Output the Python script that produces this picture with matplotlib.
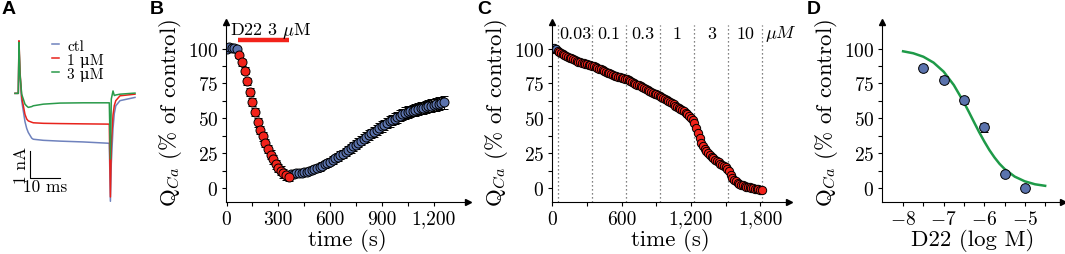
import matplotlib
matplotlib.use("Agg")
import matplotlib.pyplot as plt
from matplotlib.ticker import FuncFormatter, FixedLocator

plt.rcParams['font.family'] = ['cmr10', 'DejaVu Serif']
plt.rcParams['mathtext.fontset'] = 'cm'
plt.rcParams['axes.formatter.use_mathtext'] = True
plt.rcParams['axes.unicode_minus'] = False

# ---------------- DATA ----------------
# Panel A: current traces (time in ms, current in nA)
a_t = [0, 1.1, 1.33, 1.67, 2.23, 3.33, 3.9, 4.43, 5.57, 6.1, 9.43, 15, 22.7, 31.43,
       31.8, 32.1, 32.67, 33.1, 33.6, 35, 40]
a_ctl = [0, 0, 1.7, 0.7, -0.27, -1.05, -1.3, -1.45, -1.66, -1.70, -1.74, -1.77, -1.80, -1.85,
         -4.0, -2.6, -1.3, -0.75, -0.46, -0.27, -0.15]
a_1uM = [0, 0, 1.95, 0.8, -0.14, -0.78, -0.95, -1.02, -1.07, -1.09, -1.11, -1.12, -1.13, -1.14,
         -3.84, -1.9, -0.8, -0.45, -0.27, -0.09, -0.03]
a_3uM = [0, 0, 1.89, 0.71, -0.03, -0.40, -0.47, -0.52, -0.49, -0.46, -0.40, -0.36, -0.35, -0.35,
         -2.43, -0.21, 0.09, -0.08, -0.06, -0.03, 0.01]
a_labels = ['ctl', '1 μM', '3 μM']

# Panel B: time course, D22 3 uM
b_pre_t = [0, 15, 30, 45, 60]
b_pre_v = [100.0, 101.0, 100.7, 100.5, 99.8]
b_pre_e = [1.0, 1.0, 1.0, 1.2, 1.2]
b_drug_t = [75, 90, 105, 120, 135, 150, 165, 180, 195, 210, 225, 240, 255, 270, 285, 300,
            315, 330, 345, 360]
b_drug_v = [95.0, 90.0, 84.0, 76.5, 69.0, 61.5, 54.5, 47.0, 41.5, 37.0, 32.5, 28.0, 24.0,
            20.5, 17.0, 14.5, 12.5, 10.5, 9.0, 8.0]
b_drug_e = [2.0, 2.2, 2.4, 2.6, 2.8, 3.0, 3.0, 3.0, 3.0, 3.0, 3.0, 3.0, 3.0, 3.0, 3.0, 3.0,
            3.0, 3.0, 3.0, 3.0]
b_wash_t = [375, 390, 405, 420, 435, 450, 465, 480, 495, 510, 525, 540, 555, 570, 585, 600,
            615, 630, 645, 660, 675, 690, 705, 720, 735, 750, 765, 780, 795, 810, 825, 840,
            855, 870, 885, 900, 915, 930, 945, 960, 975, 990, 1005, 1020, 1035, 1050, 1065,
            1080, 1095, 1110, 1125, 1140, 1155, 1170, 1185, 1200, 1215, 1230, 1245, 1260]
b_wash_v = [10.0, 10.3, 10.5, 10.8, 11.0, 11.4, 11.8, 12.3, 12.9, 13.6, 14.2, 15.0, 15.9,
            16.9, 17.8, 18.9, 20.0, 21.2, 22.4, 23.6, 24.7, 25.9, 27.2, 28.5, 29.8, 31.2,
            32.6, 34.0, 35.3, 36.6, 37.9, 39.1, 40.4, 41.7, 43.0, 44.2, 45.4, 46.6, 47.7,
            48.8, 49.8, 50.8, 51.8, 52.8, 53.8, 54.5, 55.0, 55.5, 56.0, 56.6, 57.1, 57.6,
            58.1, 58.6, 59.1, 59.5, 60.0, 60.5, 61.0, 61.5]
b_wash_e = [2.0, 2.0, 2.0, 2.1, 2.1, 2.2, 2.2, 2.3, 2.3, 2.4, 2.4, 2.5, 2.5, 2.6, 2.6, 2.7,
            2.7, 2.8, 2.8, 2.9, 2.9, 3.0, 3.0, 3.1, 3.1, 3.2, 3.2, 3.3, 3.3, 3.4, 3.4, 3.5,
            3.5, 3.6, 3.6, 3.7, 3.7, 3.8, 3.8, 3.9, 3.9, 4.0, 4.0, 4.0, 4.1, 4.1, 4.1, 4.2,
            4.2, 4.2, 4.3, 4.3, 4.3, 4.4, 4.4, 4.4, 4.5, 4.5, 4.5, 4.6]
b_bar_t = [65, 360]
b_bar_label = r'D22 3 $\mu$M'

# Panel C: cumulative concentrations
c_pre_t = [0, 15, 30]
c_pre_v = [100.0, 100.5, 99.5]
c_t = [45, 60, 75, 90, 105, 120, 135, 150, 165, 180, 195, 210, 225, 240, 255, 270, 285, 300,
       315, 330, 345, 360, 375, 390, 405, 420, 435, 450, 465, 480, 495, 510, 525, 540, 555,
       570, 585, 600, 615, 630, 645, 660, 675, 690, 705, 720, 735, 750, 765, 780, 795, 810,
       825, 840, 855, 870, 885, 900, 915, 930, 945, 960, 975, 990, 1005, 1020, 1035, 1050,
       1065, 1080, 1095, 1110, 1125, 1140, 1155, 1170, 1185, 1200, 1215, 1230, 1245, 1260,
       1275, 1290, 1305, 1320, 1335, 1350, 1365, 1380, 1395, 1410, 1425, 1440, 1455, 1470,
       1485, 1500, 1515, 1530, 1545, 1560, 1575, 1590, 1605, 1620, 1635, 1650, 1665, 1680,
       1695, 1710, 1725, 1740, 1755, 1770, 1785, 1800, 1815]
c_v = [98.2, 97.5, 96.8, 96.0, 95.3, 94.6, 94.0, 93.4, 92.9, 92.4, 91.8, 91.1, 90.6, 90.2,
       89.8, 89.5, 89.1, 88.8, 88.4, 87.9, 87.5, 87.6, 86.9, 86.2, 85.6, 85.0, 84.3, 83.7,
       83.1, 82.6, 82.1, 81.6, 81.1, 80.6, 80.2, 79.8, 79.4, 79.1, 78.8, 78.5, 78.3, 77.4,
       76.6, 75.9, 75.3, 74.7, 74.1, 73.5, 72.9, 72.3, 71.7, 71.1, 70.5, 69.8, 69.1, 68.4,
       67.7, 67.1, 66.5, 65.9, 65.2, 64.4, 63.6, 62.8, 62.1, 61.4, 60.6, 59.9, 59.1, 58.4,
       57.6, 56.9, 56.0, 55.0, 54.0, 52.8, 51.7, 50.3, 48.6, 46.3, 42.8, 39.6, 35.8, 32.6,
       30.0, 27.9, 26.2, 24.8, 23.5, 22.2, 21.3, 20.4, 19.6, 18.6, 17.5, 16.5, 15.7, 14.8,
       14.0, 12.4, 9.4, 7.4, 5.9, 4.7, 3.8, 3.1, 2.5, 1.9, 1.5, 1.1, 0.8, 0.5, 0.2, 0.0,
       -0.4, -0.7, -0.9, -1.2, -1.4]
c_err = 1.8
c_lines = [50, 345, 640, 935, 1230, 1525, 1817]
c_conc = ['0.03', '0.1', '0.3', '1', '3', '10']
c_unit = r'$\mu M$'

# Panel D: dose-response
d_x = [-7.5, -7.0, -6.5, -6.0, -5.5, -5.0]
d_y = [86.0, 77.5, 63.0, 43.5, 10.2, 0.0]
d_e = [1.0, 2.5, 2.5, 3.0, 1.5, 0.5]
d_fit_x = [-8.0, -7.75, -7.5, -7.25, -7.0, -6.75, -6.5, -6.375, -6.25, -6.125, -6.0, -5.875,
           -5.75, -5.625, -5.5, -5.25, -5.0, -4.75, -4.5]
d_fit_y = [98.0, 96.6, 94.1, 89.9, 83.4, 73.8, 61.3, 54.3, 47.1, 40.0, 33.4, 27.3, 22.0,
           17.4, 13.7, 8.2, 4.8, 2.7, 1.6]

# ---------------- STYLE ----------------
BLUE = '#5b73ad'
RED = '#f2221a'
GREEN = '#1e9a48'
TR_BLUE = '#6f82bd'
TR_RED = '#e8231c'
TR_GREEN = '#2a9a4a'

W, H = 1065, 255
fig = plt.figure(figsize=(W / 100, H / 100), dpi=100)


def px_axes(x0, x1, ytop, ybot):
    return fig.add_axes([x0 / W, 1 - ybot / H, (x1 - x0) / W, (ybot - ytop) / H])


def style_axes(ax, xlim):
    ax.set_xlim(*xlim)
    ax.set_ylim(-10, 119)
    for s in ('top', 'right'):
        ax.spines[s].set_visible(False)
    for s in ('left', 'bottom'):
        ax.spines[s].set_linewidth(0.8)
    ax.plot(0, 1, '^', color='k', ms=4.5, transform=ax.transAxes, clip_on=False)
    ax.plot(1, 0, '>', color='k', ms=4.5, transform=ax.transAxes, clip_on=False)
    ax.yaxis.set_major_locator(FixedLocator([0, 25, 50, 75, 100]))
    ax.yaxis.set_minor_locator(FixedLocator([12.5, 37.5, 62.5, 87.5]))
    ax.tick_params(which='both', direction='out', length=3, width=0.8, labelsize=14,
                   pad=2.5)
    ax.set_ylabel(r'Q$_{Ca}$ (% of control)', fontsize=16.5, labelpad=3)


comma = FuncFormatter(lambda v, p: f'{int(round(v)):,}')

# ---------------- Panel A ----------------
axA = px_axes(0, 150, 35, 205)
axA.set_xlim(-5, 45)
axA.set_ylim(-4.1, 2.2)
axA.axis('off')
axA.plot(a_t, a_ctl, color=TR_BLUE, lw=1.1, label=a_labels[0])
axA.plot(a_t, a_1uM, color=TR_RED, lw=1.1, label=a_labels[1])
axA.plot(a_t, a_3uM, color=TR_GREEN, lw=1.1, label=a_labels[2])
axA.plot([5, 5, 15], [-2.13, -3.13, -3.13], color='k', lw=0.8)
axA.text(2.0, -2.62, '1 nA', rotation=90, ha='center', va='center', fontsize=12.5)
axA.text(10.0, -3.45, '10 ms', ha='center', va='center', fontsize=12.5)
axA.legend(loc='upper left', bbox_to_anchor=(0.345, 0.97), frameon=False, fontsize=11,
           handlelength=0.5, handletextpad=0.5, labelspacing=0.0, borderpad=0,
           borderaxespad=0)

# ---------------- Panel B ----------------
axB = px_axes(226, 468, 23, 203)
style_axes(axB, (-3, 1400))
eb = dict(fmt='o', mec='k', mew=0.7, ms=6.5, ecolor='k', elinewidth=0.7, capsize=2.6,
          capthick=0.7)
axB.errorbar(b_pre_t, b_pre_v, yerr=b_pre_e, mfc=BLUE, **eb)
axB.errorbar(b_wash_t, b_wash_v, yerr=b_wash_e, mfc=BLUE, **eb)
axB.errorbar(b_drug_t, b_drug_v, yerr=b_drug_e, mfc=RED, **eb)
axB.plot(b_bar_t, [106, 106], color=RED, lw=3.2, solid_capstyle='butt', clip_on=False)
axB.text(18, 113, b_bar_label, fontsize=13, ha='left', va='center')
axB.xaxis.set_major_locator(FixedLocator([0, 300, 600, 900, 1200]))
axB.xaxis.set_minor_locator(FixedLocator([150, 450, 750, 1050]))
axB.xaxis.set_major_formatter(comma)
axB.set_xlabel('time (s)', fontsize=16.5, labelpad=0)

# ---------------- Panel C ----------------
axC = px_axes(552, 789, 23, 203)
style_axes(axC, (-3, 2050))
axC.vlines(c_lines, -10, 117, linestyles=(0, (1, 2.2)), colors='0.35', lw=0.9)
eb2 = dict(fmt='o', mec='k', mew=0.7, ms=6.0, ecolor='k', elinewidth=0.6, capsize=1.8,
           capthick=0.6)
axC.errorbar(c_pre_t, c_pre_v, yerr=c_err, mfc=BLUE, **eb2)
axC.errorbar(c_t, c_v, yerr=c_err, mfc=RED, **eb2)
for i, lab in enumerate(c_conc):
    axC.text((c_lines[i] + c_lines[i + 1]) / 2, 110.8, lab, fontsize=13, ha='center',
             va='center')
axC.text(c_lines[-1] + 25, 110.8, c_unit, fontsize=13, ha='left', va='center')
axC.xaxis.set_major_locator(FixedLocator([0, 600, 1200, 1800]))
axC.xaxis.set_minor_locator(FixedLocator([300, 900, 1500]))
axC.xaxis.set_major_formatter(comma)
axC.set_xlabel('time (s)', fontsize=16.5, labelpad=0)

# ---------------- Panel D ----------------
axD = px_axes(882, 1063, 23, 203)
style_axes(axD, (-8.52, -4.06))
axD.plot(d_fit_x, d_fit_y, color=GREEN, lw=1.8)
axD.errorbar(d_x, d_y, yerr=d_e, fmt='o', mfc=BLUE, mec='k', mew=0.7, ms=7.0, ecolor='k',
             elinewidth=0.7, capsize=2.8, capthick=0.7)
axD.xaxis.set_major_locator(FixedLocator([-8, -7, -6, -5]))
axD.xaxis.set_minor_locator(FixedLocator([-7.5, -6.5, -5.5, -4.5]))
axD.xaxis.set_major_formatter(FuncFormatter(lambda v, p: r'$-%d$' % abs(int(round(v)))))
axD.set_xlabel('D22 (log M)', fontsize=16.5, labelpad=0)

# ---------------- Panel letters ----------------
for lab, x in (('A', 2), ('B', 150), ('C', 477), ('D', 807)):
    fig.text(x / W, 1 - 1 / H, lab, fontsize=14, fontweight='bold',
             family='Liberation Sans', ha='left', va='top')

fig.savefig('out.png', dpi=100)
